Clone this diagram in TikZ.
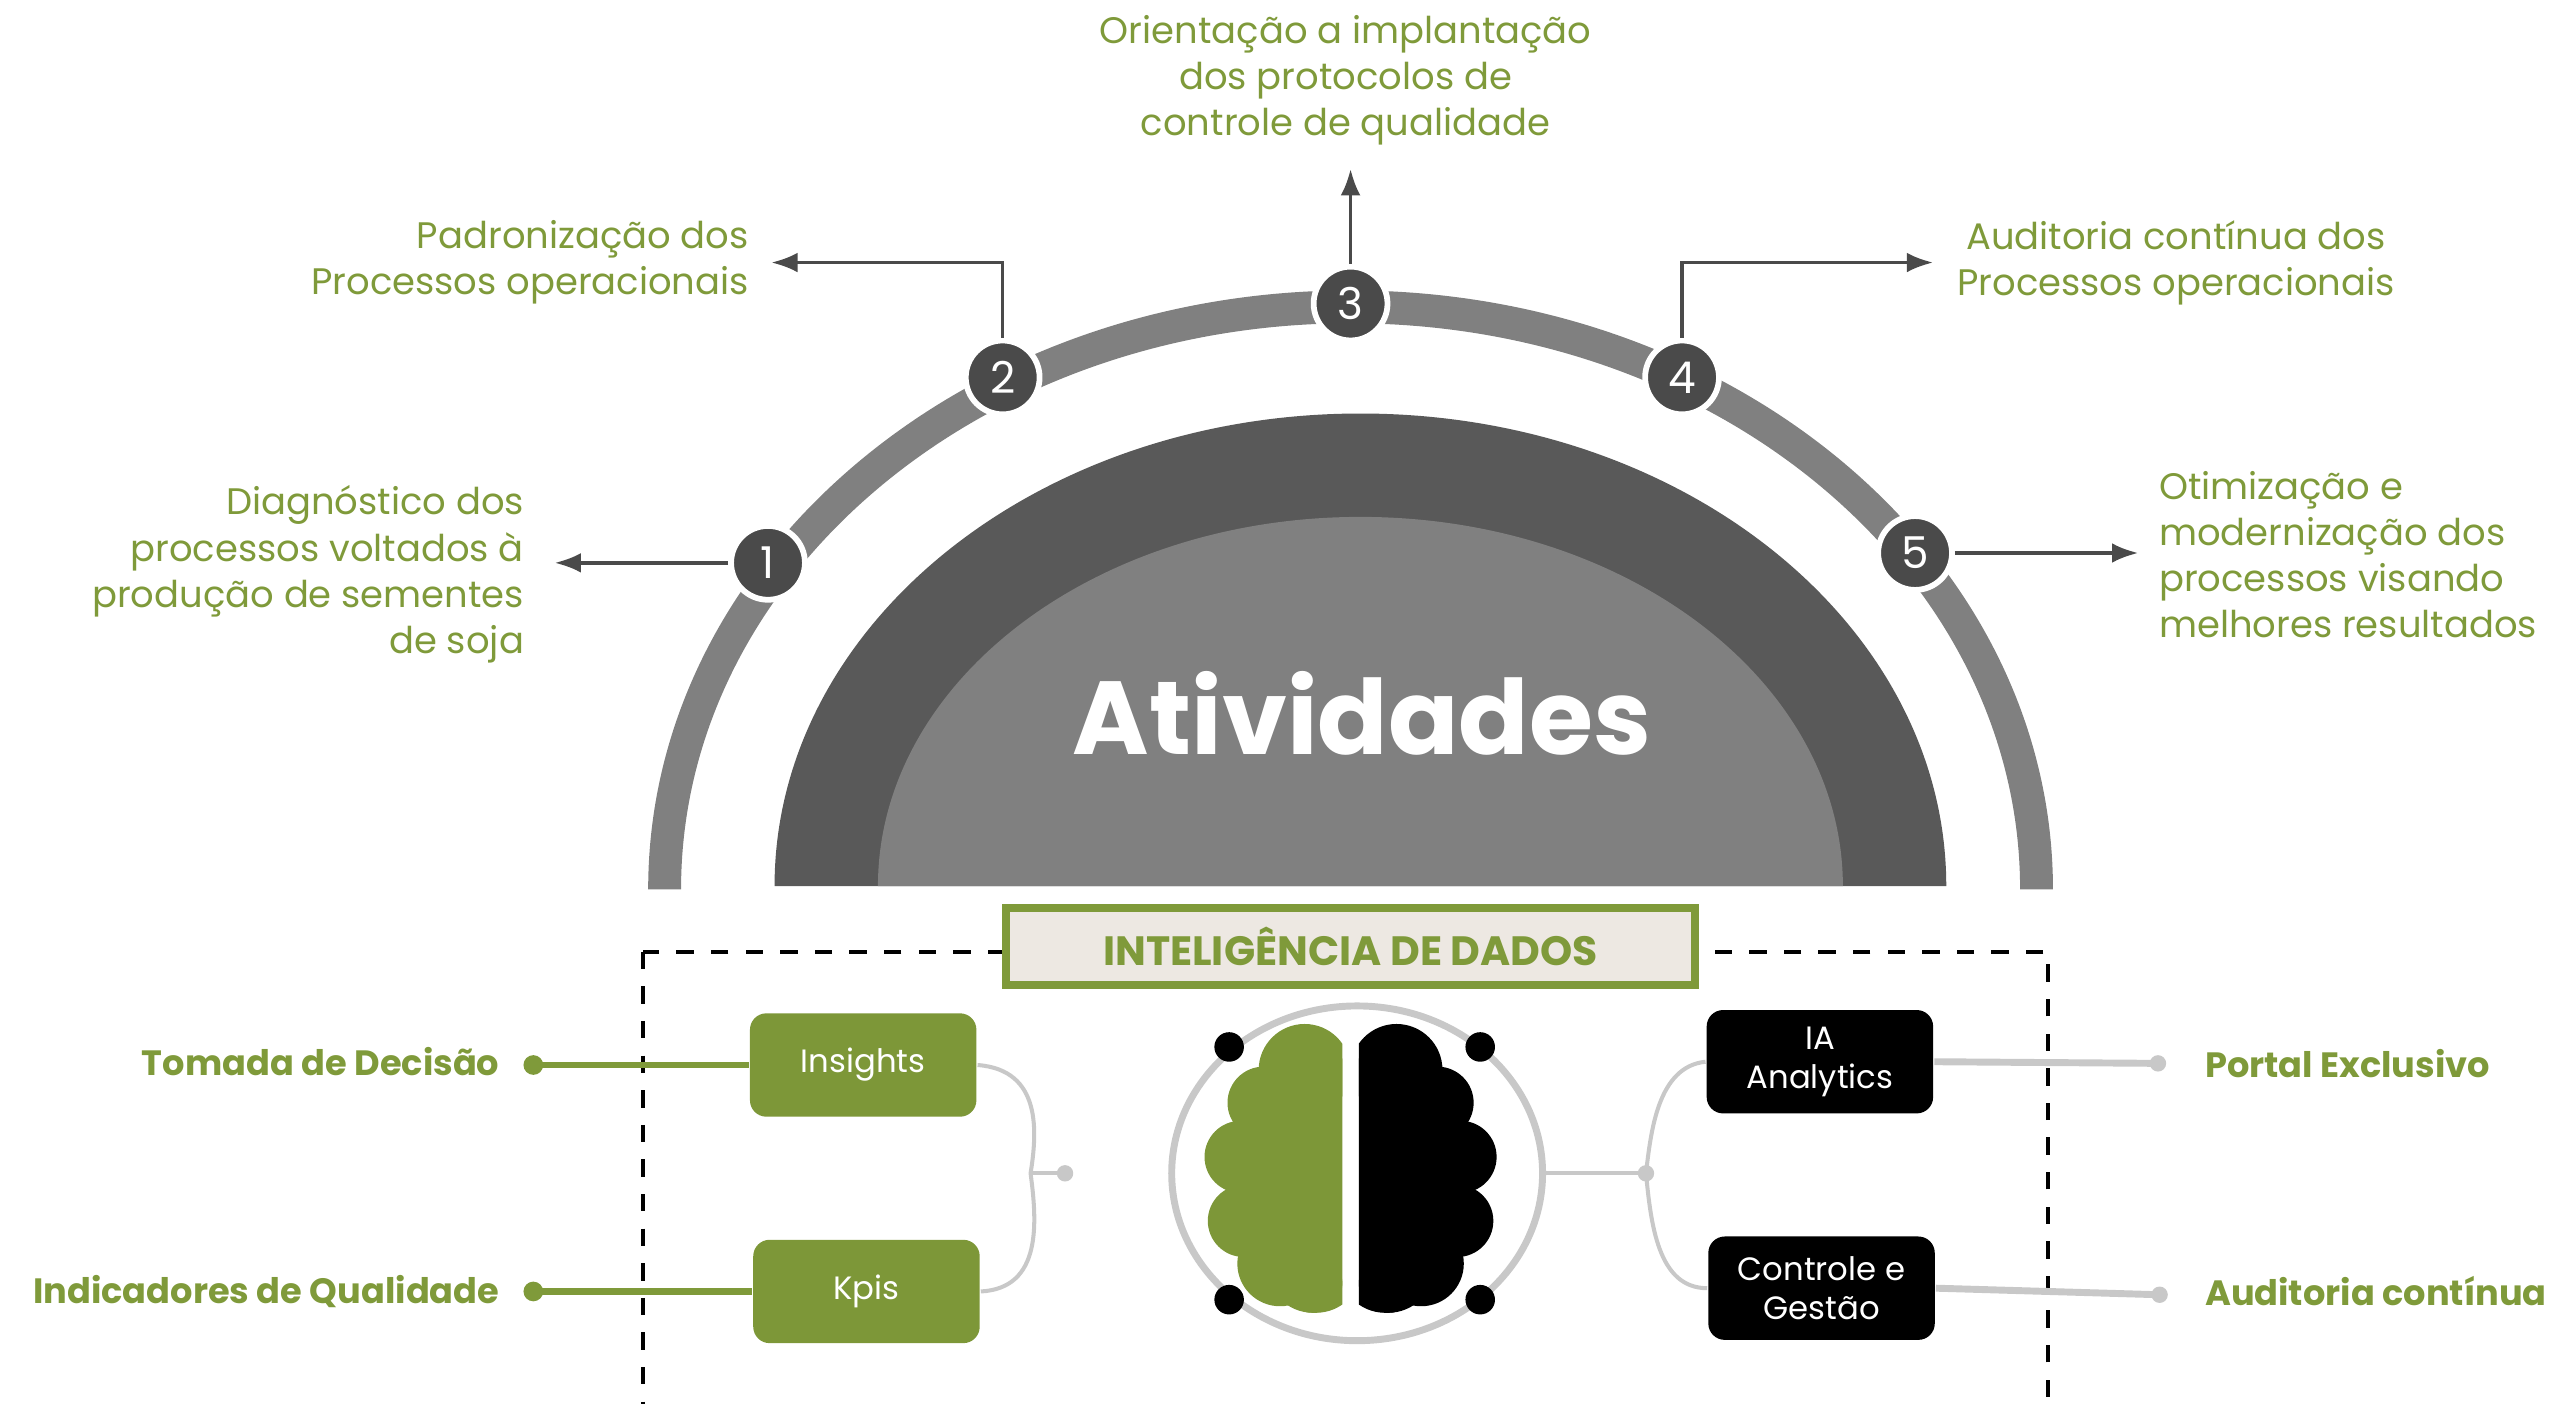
\documentclass[tikz,border=0pt]{standalone}
\usepackage{fontspec}
\setmainfont{Poppins}
\usetikzlibrary{positioning,calc,arrows.meta}
\definecolor{olive}{HTML}{7F9A3A}
\definecolor{boxgreen}{HTML}{7D9738}
\definecolor{ring}{HTML}{808080}
\definecolor{dome}{HTML}{595959}
\definecolor{numdark}{HTML}{4A4A4A}
\definecolor{beige}{HTML}{EDE8E2}
\definecolor{lightline}{HTML}{C8C8C8}
\tikzset{
  num/.style={circle, fill=numdark, draw=white, line width=1pt, minimum size=4.5mm, inner sep=0pt, text=white, font=\fontsize{7.6}{8}\selectfont},
  lbl/.style={text=olive, font=\fontsize{6.4}{8}\selectfont, inner sep=0pt},
  side/.style={text=olive, font=\bfseries\fontsize{6.1}{8}\selectfont, inner sep=0pt},
  tag/.style={rounded corners=1mm, minimum width=13.8mm, minimum height=6.3mm, text=white, align=center, font=\fontsize{5.6}{6.8}\selectfont, inner sep=0pt},
  pointer/.style={draw=numdark, line width=0.6pt, -{Latex[length=1.6mm]}},
  link/.style={draw=lightline, line width=0.7pt},
}
\begin{document}
\begin{tikzpicture}[x=0.1mm, y=-0.1mm]
\useasboundingbox (0,0) rectangle (1560,855);
% dome
\draw[ring, line width=5.7pt] (405,542) arc[start angle=180, end angle=360, x radius=418, y radius=355];
\fill[dome] (472,540) arc[start angle=180, end angle=360, x radius=357, y radius=288] -- cycle;
\fill[ring] (535,540) arc[start angle=180, end angle=360, x radius=294, y radius=225] -- cycle;
\node[text=white, font=\bfseries\fontsize{18}{20}\selectfont] (title) at (830,435) {Atividades};

% steps
\node[num] (n1) at (468,343) {1};
\node[num] (n2) at (611,230) {2};
\node[num] (n3) at (823,185) {3};
\node[num] (n4) at (1025,230) {4};
\node[num] (n5) at (1167,337) {5};
\node[lbl, align=right, anchor=east] (t1) at (320,350) {Diagnóstico dos\\processos voltados à\\produção de sementes\\de soja};
\node[lbl, align=right, anchor=east] (t2) at (457,160) {Padronização dos\\Processos operacionais};
\node[lbl, align=center] (t3) at (820,49) {Orientação a implantação\\dos protocolos de\\controle de qualidade};
\node[lbl, align=center] (t4) at (1326,160) {Auditoria contínua dos\\Processos operacionais};
\node[lbl, align=left, anchor=west] (t5) at (1315,338) {Otimização e\\modernização dos\\processos visando\\melhores resultados};
\coordinate (e1) at (338,343);
\coordinate (e2) at (470,160);
\coordinate (e3) at (823,103);
\coordinate (e4) at (1178,160);
\coordinate (e5) at (1303,337);
\draw[pointer] (n1) -- (e1);
\draw[pointer] (n2) |- (e2);
\draw[pointer] (n3) -- (e3);
\draw[pointer] (n4) |- (e4);
\draw[pointer] (n5) -- (e5);

% data intelligence
\draw[dashed, line width=0.7pt] (392,580) rectangle (1248,857);
\node[fill=beige, draw=olive, line width=1.4pt, minimum width=42mm, minimum height=4.5mm, text=olive, font=\bfseries\fontsize{7.1}{8}\selectfont] (head) at (823,577) {INTELIGÊNCIA DE DADOS};
\node[tag, fill=boxgreen] (ins) at (526,649) {Insights};
\node[tag, fill=boxgreen] (kpi) at (528,787) {Kpis};
\node[tag, fill=black] (ia) at (1109,647) {IA\\Analytics};
\node[tag, fill=black] (ctl) at (1110,785) {Controle e\\Gestão};

% brain
\draw[lightline, line width=1.2pt] (827,715) ellipse[x radius=113, y radius=102];
\begin{scope}
\clip (700,600) rectangle (818,820);
\foreach \cx/\cy/\r in {795/652/28, 770/672/22, 756/705/22, 758/744/22, 780/770/26, 800/782/18, 780/725/30} {
  \fill[boxgreen] (\cx,\cy) circle[radius=\r];
}
\fill[boxgreen, rounded corners=8] (772,640) rectangle (830,800);
\end{scope}
\begin{scope}
\clip (828,600) rectangle (960,820);
\foreach \cx/\cy/\r in {795/652/28, 770/672/22, 756/705/22, 758/744/22, 780/770/26, 800/782/18, 780/725/30} {
  \fill[black] ({1646-\cx},\cy) circle[radius=\r];
}
\fill[black, rounded corners=8] (816,640) rectangle (874,800);
\end{scope}
\foreach \dx/\dy [count=\i] in {749/638, 902/638, 749/792, 902/792} {
  \fill[black] (\dx,\dy) circle[radius=9];
}
\coordinate (bl) at (628,715);
\coordinate (br) at (1003,715);
\fill[lightline] (649,715) circle[radius=5];
\fill[lightline] (br) circle[radius=5];
\draw[link] (ins.east) .. controls (635,652) and (632,690) .. (bl) .. controls (632,745) and (635,785) .. (kpi.east);
\draw[link] (bl) -- (649,715);
\draw[link] (ia.west) .. controls (1010,650) and (1006,690) .. (br) .. controls (1006,745) and (1010,785) .. (ctl.west);
\draw[link] (940,715) -- (br);

% side labels
\node[side, anchor=east] (sl1) at (305,647) {Tomada de Decisão};
\node[side, anchor=east] (sl2) at (305,787) {Indicadores de Qualidade};
\node[side, anchor=west] (sr1) at (1343,648) {Portal Exclusivo};
\node[side, anchor=west] (sr2) at (1343,787) {Auditoria contínua};
\coordinate (dl1) at (325,649);
\coordinate (dl2) at (325,787);
\coordinate (dr1) at (1315,648);
\coordinate (dr2) at (1316,789);
\fill[olive] (dl1) circle[radius=6];
\fill[olive] (dl2) circle[radius=6];
\fill[lightline] (dr1) circle[radius=5];
\fill[lightline] (dr2) circle[radius=5];
\draw[olive, line width=1.2pt] (dl1) -- (ins.west);
\draw[olive, line width=1.2pt] (dl2) -- (kpi.west);
\draw[link, line width=1.2pt] (ia.east) -- (dr1);
\draw[link, line width=1.2pt] (ctl.east) -- (dr2);
\end{tikzpicture}
\end{document}
